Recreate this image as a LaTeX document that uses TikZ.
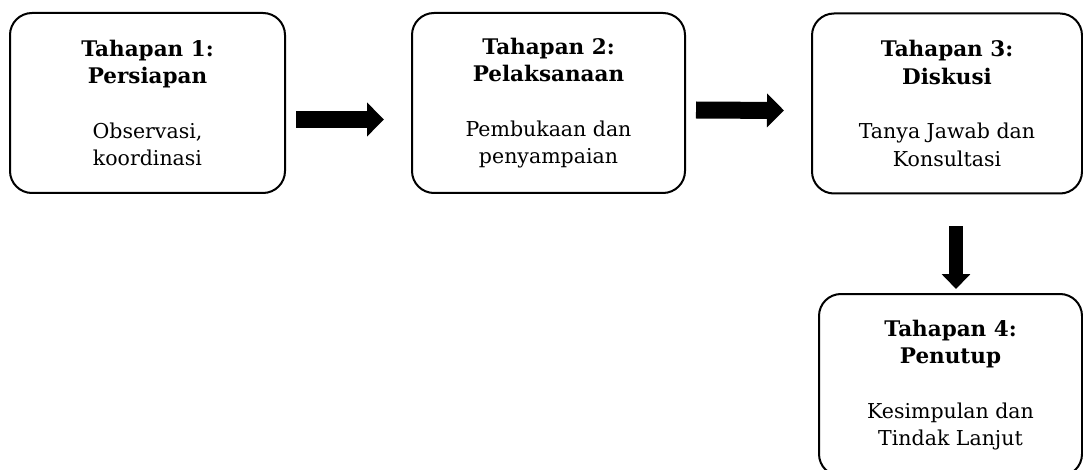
\documentclass[tikz,border=0pt]{standalone}
\usepackage{fontspec}
\setmainfont{DejaVu Serif}
\usetikzlibrary{arrows.meta}
\newcommand{\ttl}[1]{{\fontsize{21.5}{28}\selectfont\bfseries #1}}
\tikzset{
  stagebox/.style={draw, line width=2pt, rounded corners=22pt, align=center, inner sep=0pt,
    minimum height=180pt, font=\fontsize{20.5}{27.5}\selectfont},
  bigarrow/.style={line width=17pt, -{Triangle[length=17pt,width=33pt]}},
  downarrow/.style={line width=14pt, -{Triangle[length=15pt,width=28pt]}}
}
\begin{document}
\begin{tikzpicture}[x=1pt,y=-1pt]
\useasboundingbox (0,0) rectangle (1083,470);
\node[stagebox, minimum width=275pt] (b1) at (147.5,103) {\ttl{Tahapan 1:}\\\ttl{Persiapan}\\[27pt]Observasi,\\koordinasi};
\node[stagebox, minimum width=273pt] (b2) at (548.5,103) {\ttl{Tahapan 2:}\\\ttl{Pelaksanaan}\\[27pt]Pembukaan dan\\penyampaian};
\node[stagebox, minimum width=270pt] (b3) at (947,103.5) {\ttl{Tahapan 3:}\\\ttl{Diskusi}\\[27pt]Tanya Jawab dan\\Konsultasi};
\node[stagebox, minimum width=263pt, minimum height=182pt] (b4) at (950.5,385) {\ttl{Tahapan 4:}\\\ttl{Penutup}\\[27pt]Kesimpulan dan\\Tindak Lanjut};
\draw[bigarrow] ([shift={(10,16.5)}]b1.east) -- ([shift={(-27,16.5)}]b2.west);
\draw[bigarrow] ([shift={(10,7)}]b2.east) -- ([shift={(-27,7)}]b3.west);
\draw[downarrow] ([shift={(9,32)}]b3.south) -- ([shift={(5.5,-4)}]b4.north);
\end{tikzpicture}
\end{document}
